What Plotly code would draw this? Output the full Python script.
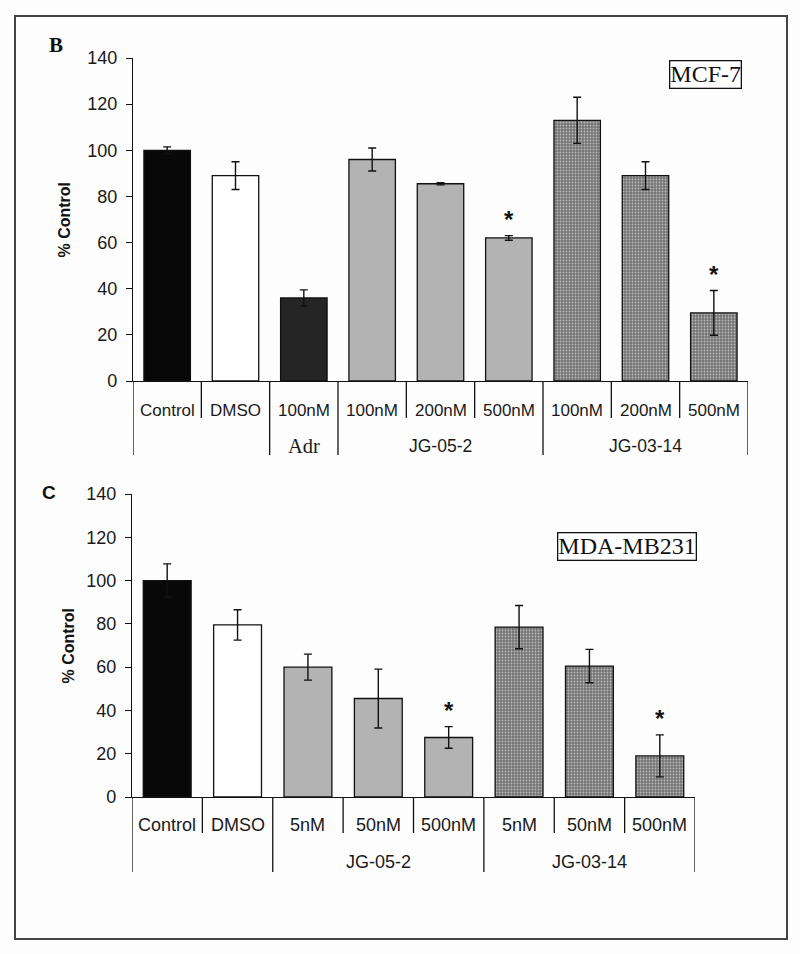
import plotly.graph_objects as go

# ---------------- data ----------------
b_labels = ["Control", "DMSO", "100nM", "100nM", "200nM", "500nM", "100nM", "200nM", "500nM"]
b_groups = ["", "", "Adr", "JG-05-2", "JG-05-2", "JG-05-2", "JG-03-14", "JG-03-14", "JG-03-14"]
b_values = [100, 89, 36, 96, 85.5, 62, 113, 89, 29.5]
b_errors = [1.5, 6, 3.5, 5, 0.5, 1, 10, 6, 9.7]
b_sig = [False, False, False, False, False, True, False, False, True]

c_labels = ["Control", "DMSO", "5nM", "50nM", "500nM", "5nM", "50nM", "500nM"]
c_groups = ["", "", "JG-05-2", "JG-05-2", "JG-05-2", "JG-03-14", "JG-03-14", "JG-03-14"]
c_values = [100, 79.5, 60, 45.5, 27.5, 78.5, 60.5, 19]
c_errors = [7.7, 7, 6, 13.6, 5, 10, 7.7, 9.7]
c_sig = [False, False, False, False, True, False, False, True]

y_ticks = [0, 20, 40, 60, 80, 100, 120, 140]

group_colors = {"": None, "Adr": "#252525", "JG-05-2": "#b3b3b3", "JG-03-14": "#747474"}
ctrl_colors = {"Control": "#080808", "DMSO": "#ffffff"}

W, H = 800, 954
fig = go.Figure()

SANS = "Arial, Liberation Sans, sans-serif"
SERIF = "Times New Roman, Liberation Serif, serif"

panels = [
    dict(labels=b_labels, groups=b_groups, values=b_values, errors=b_errors, sig=b_sig,
         xa="x", ya="y", xdom=[133 / W, 748 / W], ydom=[1 - 381 / H, 1 - 58 / H],
         short=37, long=74, lab1=29, lab2=65, fs1=17, fs2=17.5, ytitle_x=64),
    dict(labels=c_labels, groups=c_groups, values=c_values, errors=c_errors, sig=c_sig,
         xa="x2", ya="y2", xdom=[132 / W, 695 / W], ydom=[1 - 797 / H, 1 - 494 / H],
         short=36, long=75, lab1=28, lab2=65, fs1=18, fs2=18, ytitle_x=68),
]

shapes = []
annotations = []
for p in panels:
    n = len(p["labels"])
    xs = list(range(n))
    colors = []
    patterns = []
    for lab, g in zip(p["labels"], p["groups"]):
        colors.append(ctrl_colors[lab] if g == "" else group_colors[g])
        patterns.append("." if g == "JG-03-14" else "")
    fig.add_trace(go.Bar(
        x=xs, y=p["values"], xaxis=p["xa"], yaxis=p["ya"], width=0.68,
        marker=dict(color=colors, line=dict(color="#111111", width=1.3),
                    pattern=dict(shape=patterns, size=3, solidity=0.3, fgcolor="#5e5e5e")),
        error_y=dict(type="data", array=p["errors"], visible=True, color="#111111",
                     thickness=1.4, width=4),
        showlegend=False, hoverinfo="skip",
    ))
    dh = (p["ydom"][1] - p["ydom"][0]) * H
    yref = p["ya"] + " domain"
    # category boundaries
    for i in range(n + 1):
        bx = i - 0.5
        long_line = True if (i == 0 or i == n) else p["groups"][i] != p["groups"][i - 1]
        depth = p["long"] if long_line else p["short"]
        shapes.append(dict(type="line", xref=p["xa"], yref=yref, x0=bx, x1=bx,
                           y0=0, y1=-depth / dh, line=dict(color="#111111", width=1.3)))
    # level-1 labels
    for i, lab in enumerate(p["labels"]):
        annotations.append(dict(x=i, y=-p["lab1"] / dh, xref=p["xa"], yref=yref, text=lab,
                                showarrow=False, xanchor="center", yanchor="middle",
                                font=dict(family=SANS, size=p["fs1"], color="#1a1a1a")))
    # level-2 labels
    i = 0
    while i < n:
        j = i
        while j + 1 < n and p["groups"][j + 1] == p["groups"][i]:
            j += 1
        g = p["groups"][i]
        if g:
            fam = SERIF if g == "Adr" else SANS
            annotations.append(dict(x=(i + j) / 2, y=-p["lab2"] / dh, xref=p["xa"], yref=yref,
                                    text=g, showarrow=False, xanchor="center", yanchor="middle",
                                    font=dict(family=fam, size=p["fs2"] + (3 if g == "Adr" else 0),
                                              color="#1a1a1a")))
        i = j + 1
    # significance stars
    for i, s in enumerate(p["sig"]):
        if s:
            annotations.append(dict(x=i, y=p["values"][i] + p["errors"][i], xref=p["xa"], yref=p["ya"],
                                    text="<b>*</b>", showarrow=False, xanchor="center", yanchor="bottom",
                                    yshift=1, font=dict(family=SANS, size=24, color="#111111")))
    # y-axis title
    yc = 1 - ((1 - p["ydom"][0]) + (1 - p["ydom"][1])) / 2
    annotations.append(dict(x=p["ytitle_x"] / W, y=yc, xref="paper", yref="paper",
                            text="<b>% Control</b>", textangle=-90, showarrow=False,
                            xanchor="center", yanchor="middle",
                            font=dict(family=SANS, size=16, color="#111111")))

xaxis_common = dict(showgrid=False, zeroline=False, showline=True, linecolor="#111111", linewidth=1.3,
                    ticks="", showticklabels=False, fixedrange=True)
yaxis_common = dict(range=[0, 140], tickvals=y_ticks, ticks="outside", ticklen=6, tickwidth=1.3,
                    tickcolor="#111111", showline=True, linecolor="#111111", linewidth=1.3,
                    showgrid=False, zeroline=False, ticklabelstandoff=5, fixedrange=True,
                    tickfont=dict(family=SANS, size=18, color="#1a1a1a"))

fig.update_layout(
    width=W, height=H, margin=dict(l=0, r=0, t=0, b=0, autoexpand=False),
    paper_bgcolor="#fdfdfd", plot_bgcolor="rgba(0,0,0,0)",
    xaxis=dict(domain=panels[0]["xdom"], range=[-0.5, len(b_labels) - 0.5], anchor="y", **xaxis_common),
    yaxis=dict(domain=panels[0]["ydom"], anchor="x", **yaxis_common),
    xaxis2=dict(domain=panels[1]["xdom"], range=[-0.5, len(c_labels) - 0.5], anchor="y2", **xaxis_common),
    yaxis2=dict(domain=panels[1]["ydom"], anchor="x2", **yaxis_common),
)

# outer frame
shapes.append(dict(type="rect", xref="paper", yref="paper", x0=15 / W, x1=787 / W,
                   y0=1 - 939 / H, y1=1 - 16 / H, line=dict(color="#444444", width=2)))
fig.update_layout(shapes=shapes)

# panel letters and cell-line boxes
annotations.append(dict(x=56 / W, y=1 - 45 / H, xref="paper", yref="paper", text="<b>B</b>",
                        showarrow=False, xanchor="center", yanchor="middle",
                        font=dict(family=SERIF, size=21, color="#111111")))
annotations.append(dict(x=49 / W, y=1 - 493 / H, xref="paper", yref="paper", text="<b>C</b>",
                        showarrow=False, xanchor="center", yanchor="middle",
                        font=dict(family=SANS, size=19, color="#111111")))
annotations.append(dict(x=705 / W, y=1 - 74 / H, xref="paper", yref="paper", text="MCF-7",
                        showarrow=False, xanchor="center", yanchor="middle",
                        bordercolor="#111111", borderwidth=1.3, borderpad=0, bgcolor="#ffffff",
                        font=dict(family=SERIF, size=24, color="#111111")))
annotations.append(dict(x=627 / W, y=1 - 546 / H, xref="paper", yref="paper", text="MDA-MB231",
                        showarrow=False, xanchor="center", yanchor="middle",
                        bordercolor="#111111", borderwidth=1.3, borderpad=0, bgcolor="#ffffff",
                        font=dict(family=SERIF, size=24, color="#111111")))
fig.update_layout(annotations=annotations)

fig.write_html("out.html", config={"displayModeBar": False},
               post_script="document.body.style.margin='0';")
